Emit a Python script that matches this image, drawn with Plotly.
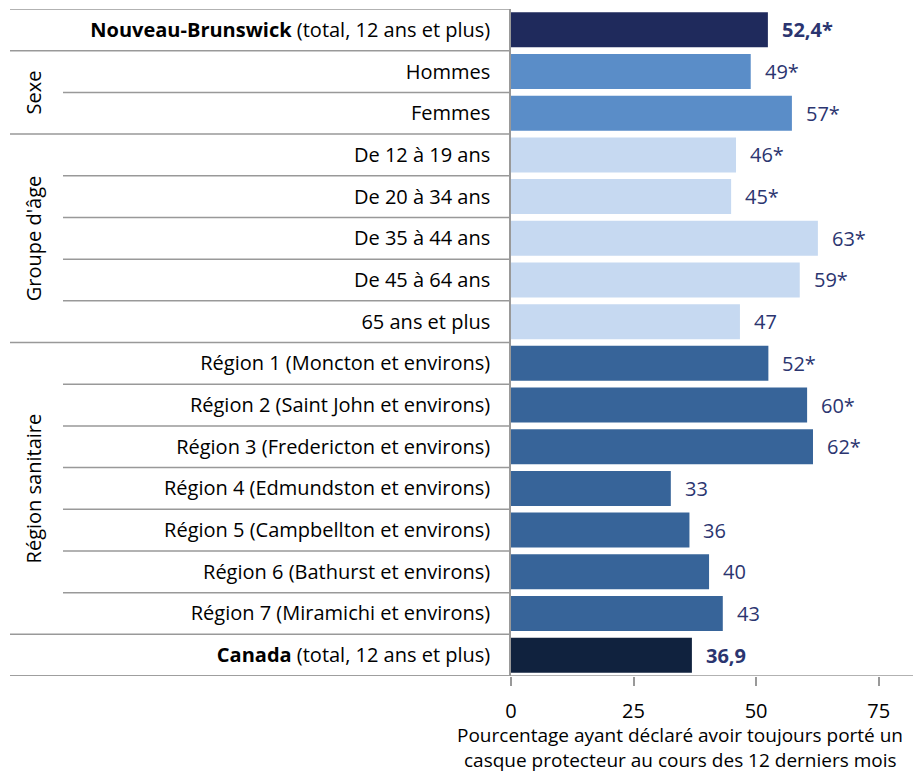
import plotly.graph_objects as go

labels = [
    "<b>Nouveau-Brunswick</b> (total, 12 ans et plus)",
    "Hommes",
    "Femmes",
    "De 12 à 19 ans",
    "De 20 à 34 ans",
    "De 35 à 44 ans",
    "De 45 à 64 ans",
    "65 ans et plus",
    "Région 1 (Moncton et environs)",
    "Région 2 (Saint John et environs)",
    "Région 3 (Fredericton et environs)",
    "Région 4 (Edmundston et environs)",
    "Région 5 (Campbellton et environs)",
    "Région 6 (Bathurst et environs)",
    "Région 7 (Miramichi et environs)",
    "<b>Canada</b> (total, 12 ans et plus)",
]
values = [52.4, 48.9, 57.3, 45.9, 44.9, 62.6, 58.9, 46.7,
          52.5, 60.4, 61.6, 32.6, 36.4, 40.4, 43.2, 36.9]
value_text = ["<b>52,4*</b>", "49*", "57*", "46*", "45*", "63*", "59*", "47",
              "52*", "60*", "62*", "33", "36", "40", "43", "<b>36,9</b>"]
colors = ["#1f2a5c", "#5a8dc8", "#5a8dc8", "#c6d9f1", "#c6d9f1", "#c6d9f1",
          "#c6d9f1", "#c6d9f1", "#376499", "#376499", "#376499", "#376499",
          "#376499", "#376499", "#376499", "#10223e"]
groups = [("Sexe", 1, 2), ("Groupe d'âge", 3, 7), ("Région sanitaire", 8, 14)]
x_ticks = [0, 25, 50, 75]
x_title = ["Pourcentage ayant déclaré avoir toujours porté un",
           "casque protecteur au cours des 12 derniers mois"]

FONT = "Open Sans"
OFF = 8  # page body margin
W, H = 922 - OFF, 773 - OFF
L, R, T, B = 511 - OFF, 9, 1, 97
pw = W - L - R
ph = H - T - B
rows = list(range(len(labels)))


def px_x(p):
    # screen pixel -> paper x
    return (p - OFF - L) / pw


def px_y(p):
    return 1 - (p - OFF - T) / ph


fig = go.Figure()
fig.add_trace(go.Bar(
    y=rows, x=values, orientation="h", width=0.84,
    marker=dict(color=colors, line=dict(width=0)),
    hoverinfo="x+y",
))

# value labels
for i, (v, t) in enumerate(zip(values, value_text)):
    fig.add_annotation(x=v, y=i, text=t, showarrow=False, xanchor="left",
                       xshift=12, font=dict(size=20, color="#2b3570", family=FONT))

# separators
full = {-0.5, 0.5, 2.5, 7.5, 14.5, 15.5}
for b in [k - 0.5 for k in range(len(labels) + 1)]:
    x0 = px_x(10) if b in full else px_x(63)
    fig.add_shape(type="line", xref="paper", yref="y", x0=x0, x1=0, y0=b, y1=b,
                  line=dict(color="#999999", width=1.5))
fig.add_shape(type="line", xref="paper", yref="y", x0=px_x(10), x1=1, y0=15.5, y1=15.5,
              line=dict(color="#999999", width=1.5))

for name, a, b in groups:
    fig.add_annotation(xref="paper", yref="y", x=px_x(33), y=(a + b) / 2, text=name,
                       textangle=-90, showarrow=False, xanchor="center", yanchor="middle",
                       font=dict(size=20, color="black", family=FONT))

# axis title, one annotation per line
for line, yc in zip(x_title, [734.5, 759.5]):
    fig.add_annotation(xref="paper", yref="paper", x=px_x(680), y=px_y(yc),
                       yanchor="middle", xanchor="center", text=line,
                       showarrow=False, borderpad=0,
                       font=dict(size=19, color="black", family=FONT))

fig.update_yaxes(tickvals=rows, ticktext=labels, range=[15.5, -0.5],
                 showline=True, linecolor="#999999", linewidth=1.5,
                 ticks="", ticklabelstandoff=15, showgrid=False, zeroline=False,
                 tickfont=dict(size=20, color="black", family=FONT))
fig.update_xaxes(range=[0, 82], tickvals=x_ticks, showgrid=False, zeroline=False,
                 showline=False, ticks="outside", ticklen=9, tickcolor="#999999",
                 tickwidth=1.5, ticklabelstandoff=8,
                 tickfont=dict(size=20, color="black", family=FONT))

fig.update_layout(
    width=W, height=H, margin=dict(l=L, r=R, t=T, b=B, autoexpand=False),
    plot_bgcolor="white", paper_bgcolor="white", showlegend=False,
    font=dict(family=FONT),
)

fig.write_html("out.html")
